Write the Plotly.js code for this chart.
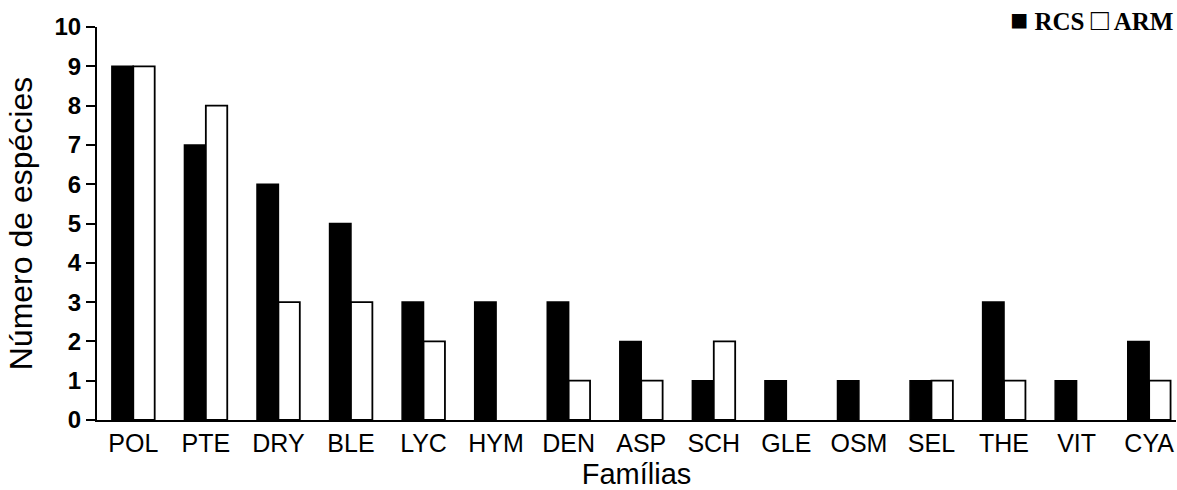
<!DOCTYPE html>
<html>
<head>
<meta charset="utf-8">
<script src="https://cdn.plot.ly/plotly-3.0.1.min.js"></script>
<style>html,body{margin:0;padding:0;background:#fff;}#chart{width:1177px;height:490px;}</style>
</head>
<body>
<div id="chart"></div>
<script>
const familias = ["POL","PTE","DRY","BLE","LYC","HYM","DEN","ASP","SCH","GLE","OSM","SEL","THE","VIT","CYA"];
const rcs = [9,7,6,5,3,3,3,2,1,1,1,1,3,1,2];
const arm = [9,8,3,3,2,0,1,1,2,0,0,1,1,0,1];
const yTicks = [0,1,2,3,4,5,6,7,8,9,10];

const traces = [
  {type:"bar", name:"RCS", x:familias, y:rcs,
   marker:{color:"#000000", line:{color:"#000000", width:rcs.map(v => v > 0 ? 1.5 : 0)}}},
  {type:"bar", name:"ARM", x:familias, y:arm,
   marker:{color:"#ffffff", line:{color:"#000000", width:arm.map(v => v > 0 ? 1.8 : 0)}}}
];

const layout = {
  width:1177, height:490,
  margin:{l:97, r:1, t:27, b:70},
  paper_bgcolor:"#fff", plot_bgcolor:"#fff",
  barmode:"group", bargap:0.41, bargroupgap:0,
  showlegend:false,
  font:{family:"Liberation Sans, Arial, sans-serif", color:"#000"},
  xaxis:{
    range:[-0.5, 14.37],
    showline:true, linecolor:"#000", linewidth:2,
    ticks:"", showgrid:false, zeroline:false,
    tickfont:{size:25, color:"#000"},
    title:{text:"Famílias", font:{size:29, color:"#000"}, standoff:10}
  },
  yaxis:{
    range:[0,10], tickvals:yTicks, ticktext:yTicks.map(String),
    showline:true, linecolor:"#000", linewidth:2,
    ticks:"outside", ticklen:9, tickwidth:2, tickcolor:"#000",
    showgrid:false, zeroline:false,
    tickfont:{size:24, color:"#000", weight:"bold"},
    title:{text:"Número de espécies", font:{size:32, color:"#000"}, standoff:12}
  },
  annotations:[{
    xref:"paper", yref:"paper", x:0.9995, y:1.02, xanchor:"right", yanchor:"middle",
    text:"<b><span style='font-size:30px'>■</span> RCS <span style='font-size:30px'>□</span> ARM</b>", showarrow:false,
    font:{family:"Liberation Serif, Times New Roman, serif", size:25, color:"#000"}
  }]
};

Plotly.newPlot("chart", traces, layout, {displayModeBar:false, staticPlot:true});
</script>
</body>
</html>
